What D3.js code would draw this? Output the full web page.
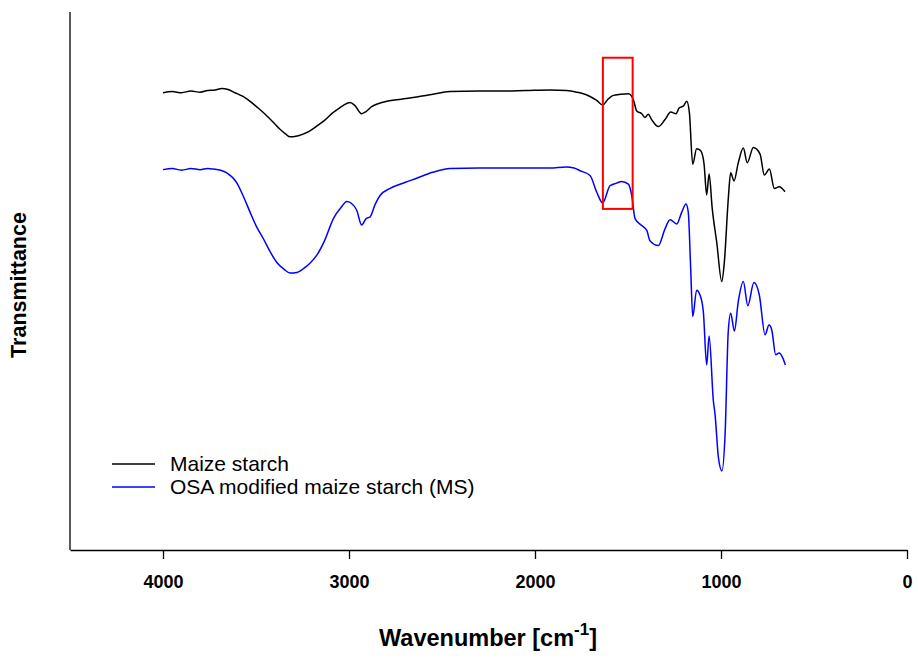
<!DOCTYPE html>
<meta charset="utf-8">
<script src="https://d3js.org/d3.v7.min.js"></script>
<style>
  body { margin: 0; background: #fff; }
  text { font-family: Arial, "Liberation Sans", sans-serif; }
</style>
<div id="chart"></div>
<script>
// FTIR spectra, wavenumber (cm-1) vs transmittance (arbitrary units)
const maizeWn = [4000, 3950, 3900, 3850, 3800, 3760, 3720, 3683, 3650, 3613, 3570, 3532, 3490, 3451, 3410, 3371, 3340, 3317, 3285, 3247, 3210, 3177, 3130, 3086, 3050, 3032, 2994, 2968, 2932, 2908, 2878, 2840, 2797, 2720, 2636, 2564, 2457, 2300, 2188, 2050, 1919, 1830, 1776, 1740, 1704, 1670, 1636, 1610, 1579, 1540, 1498, 1471, 1453, 1426, 1409, 1391, 1373, 1337, 1301, 1270, 1242, 1224, 1203, 1184, 1170, 1152, 1131, 1109, 1091, 1077, 1064, 1047, 1023, 996, 982, 961, 948, 930, 907, 880, 859, 826, 790, 767, 740, 713, 687, 656];
const maizeT = [85.0, 85.2, 85.0, 85.3, 85.1, 85.4, 85.5, 85.8, 85.6, 85.0, 84.3, 83.4, 82.2, 81.0, 79.6, 78.2, 77.3, 76.8, 76.9, 77.3, 77.9, 78.7, 79.9, 81.3, 82.2, 82.6, 83.2, 82.6, 81.1, 81.5, 82.4, 83.0, 83.4, 83.8, 84.2, 84.6, 85.2, 85.3, 85.3, 85.4, 85.5, 85.4, 85.1, 84.8, 84.3, 83.6, 82.7, 83.7, 84.5, 84.7, 84.8, 83.7, 81.6, 81.1, 80.4, 81.0, 80.0, 78.7, 80.0, 81.4, 81.1, 82.2, 82.5, 83.4, 81.3, 71.7, 74.6, 74.2, 71.7, 66.0, 69.9, 63.4, 57.2, 49.9, 53.5, 65.2, 70.1, 68.6, 72.0, 74.7, 72.0, 74.8, 73.6, 69.7, 70.8, 67.2, 67.5, 66.6];

const osaWn = [4000, 3950, 3900, 3850, 3800, 3760, 3729, 3690, 3657, 3604, 3570, 3532, 3500, 3461, 3425, 3389, 3350, 3317, 3280, 3245, 3210, 3173, 3130, 3084, 3040, 3012, 2989, 2958, 2932, 2908, 2887, 2860, 2833, 2779, 2700, 2636, 2550, 2457, 2300, 2188, 2050, 1919, 1833, 1790, 1758, 1704, 1668, 1636, 1597, 1561, 1534, 1498, 1480, 1462, 1426, 1399, 1382, 1337, 1301, 1274, 1238, 1211, 1188, 1176, 1163, 1152, 1131, 1113, 1095, 1077, 1064, 1041, 1032, 1014, 995, 978, 961, 948, 928, 907, 880, 856, 823, 794, 763, 742, 727, 706, 688, 668, 654];
const osaT = [70.7, 70.9, 70.6, 70.9, 70.7, 70.9, 70.8, 70.6, 70.1, 68.3, 65.9, 62.8, 60.3, 57.9, 55.5, 53.5, 52.2, 51.5, 51.6, 52.3, 53.3, 54.8, 57.6, 61.6, 63.8, 64.8, 64.5, 63.1, 60.4, 61.6, 61.9, 64.2, 65.9, 67.2, 68.3, 69.1, 70.2, 70.9, 71.0, 71.0, 71.0, 71.0, 71.2, 71.0, 70.5, 69.6, 66.5, 64.5, 67.7, 68.2, 68.5, 68.0, 65.9, 61.6, 60.3, 59.4, 57.5, 56.6, 59.7, 61.4, 60.6, 62.8, 64.3, 62.8, 52.3, 43.4, 48.3, 47.4, 44.3, 34.4, 39.8, 27.7, 25.2, 17.2, 14.7, 21.5, 40.6, 44.0, 40.7, 46.2, 49.9, 45.4, 49.7, 47.4, 40.0, 41.8, 40.9, 36.3, 36.6, 35.7, 34.4];

const xTicks = [4000, 3000, 2000, 1000, 0];
const legendNames = ["Maize starch", "OSA modified maize starch (MS)"];
const lineColors = ["#000000", "#0000ff"];
// highlighted band (wavenumber range and transmittance range of the red box)
const boxWn = [1635, 1475];
const boxT = [91.5, 63.4];

const width = 918, height = 658;
const x0 = 70, x1 = 907, yTop = 12, yBottom = 550;

const svg = d3.select("#chart").append("svg")
  .attr("width", width)
  .attr("height", height);

const x = d3.scaleLinear().domain([4500, 0]).range([x0, x1]);
const y = d3.scaleLinear().domain([0, 100]).range([yBottom, yTop]);

// axes
svg.append("line")
  .attr("x1", x0).attr("x2", x0).attr("y1", yTop).attr("y2", yBottom)
  .attr("stroke", "#000").attr("stroke-width", 1.3);

const xAxis = svg.append("g")
  .attr("transform", `translate(0,${yBottom})`)
  .call(d3.axisBottom(x).tickValues(xTicks).tickSize(9).tickSizeOuter(0).tickPadding(16).tickFormat(d3.format("d")));
xAxis.select(".domain").attr("stroke-width", 1.3);
xAxis.selectAll(".tick line").attr("stroke-width", 1.3);
xAxis.selectAll("text")
  .attr("font-size", "18px")
  .attr("font-weight", "bold")
  .attr("font-family", "Arial, 'Liberation Sans', sans-serif")
  .attr("fill", "#000");

// axis titles
const xt = svg.append("text")
  .attr("x", 488).attr("y", 646)
  .attr("text-anchor", "middle")
  .attr("font-size", "23.5px")
  .attr("font-weight", "bold");
xt.append("tspan").text("Wavenumber [cm");
xt.append("tspan").attr("dy", -11).attr("font-size", "17px").text("-1");
xt.append("tspan").attr("dy", 11).text("]");

svg.append("text")
  .attr("transform", "translate(26,285) rotate(-90)")
  .attr("text-anchor", "middle")
  .attr("font-size", "21.5px")
  .attr("font-weight", "bold")
  .text("Transmittance");

// spectra
const line = d3.line()
  .x(d => x(d[0]))
  .y(d => y(d[1]))
  .curve(d3.curveMonotoneX);

const series = [
  d3.zip(maizeWn, maizeT),
  d3.zip(osaWn, osaT)
];

svg.selectAll("path.spec")
  .data(series)
  .join("path")
  .attr("class", "spec")
  .attr("fill", "none")
  .attr("stroke", (d, i) => lineColors[i])
  .attr("stroke-width", 1.5)
  .attr("d", line);

// red box
svg.append("rect")
  .attr("x", x(boxWn[0]))
  .attr("y", y(boxT[0]))
  .attr("width", x(boxWn[1]) - x(boxWn[0]))
  .attr("height", y(boxT[1]) - y(boxT[0]))
  .attr("fill", "none")
  .attr("stroke", "#ff0000")
  .attr("stroke-width", 2);

// legend
const legend = svg.selectAll("g.legend")
  .data(legendNames)
  .join("g")
  .attr("class", "legend")
  .attr("transform", (d, i) => `translate(112,${464 + i * 23})`);

legend.append("line")
  .attr("x1", 0).attr("x2", 43)
  .attr("stroke", (d, i) => lineColors[i])
  .attr("stroke-width", 1.5);

legend.append("text")
  .attr("x", 58).attr("y", 7)
  .attr("font-size", "21px")
  .text(d => d);
</script>
